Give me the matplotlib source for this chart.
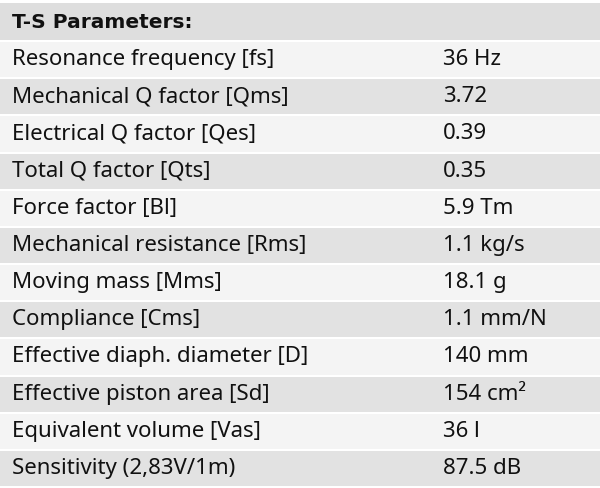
import matplotlib
matplotlib.use('Agg')
import matplotlib.pyplot as plt
from matplotlib.patches import Rectangle

title = "T-S Parameters:"
params = [
    "Resonance frequency [fs]",
    "Mechanical Q factor [Qms]",
    "Electrical Q factor [Qes]",
    "Total Q factor [Qts]",
    "Force factor [Bl]",
    "Mechanical resistance [Rms]",
    "Moving mass [Mms]",
    "Compliance [Cms]",
    "Effective diaph. diameter [D]",
    "Effective piston area [Sd]",
    "Equivalent volume [Vas]",
    "Sensitivity (2,83V/1m)",
]
values = ["36 Hz", "3.72", "0.39", "0.35", "5.9 Tm", "1.1 kg/s", "18.1 g",
          "1.1 mm/N", "140 mm", "154 cm²", "36 l", "87.5 dB"]

W, H = 600, 488
fig = plt.figure(figsize=(W / 100, H / 100), dpi=100)
ax = fig.add_axes([0, 0, 1, 1])
ax.set_xlim(0, W)
ax.set_ylim(H, 0)
ax.axis('off')

font = 'Noto Sans'
# header
ax.add_patch(Rectangle((0, 3), W, 37, color='#dedede', lw=0))
ax.text(12, 22, title, fontsize=14.5, fontweight='bold', family='DejaVu Sans',
        va='center', color='#111111')

row_h = (H - 42) / len(params)
for i, (p, v) in enumerate(zip(params, values)):
    y0 = 42 + i * row_h
    col = '#f4f4f4' if i % 2 == 0 else '#e2e2e2'
    ax.add_patch(Rectangle((0, y0), W, row_h - 2, color=col, lw=0))
    yc = y0 + (row_h - 2) / 2
    ax.text(12, yc, p, fontsize=16, family=font, va='center', color='#111111')
    ax.text(443, yc, v, fontsize=16, family=font, va='center', color='#111111')

fig.savefig('out.png', dpi=100, facecolor='white')
